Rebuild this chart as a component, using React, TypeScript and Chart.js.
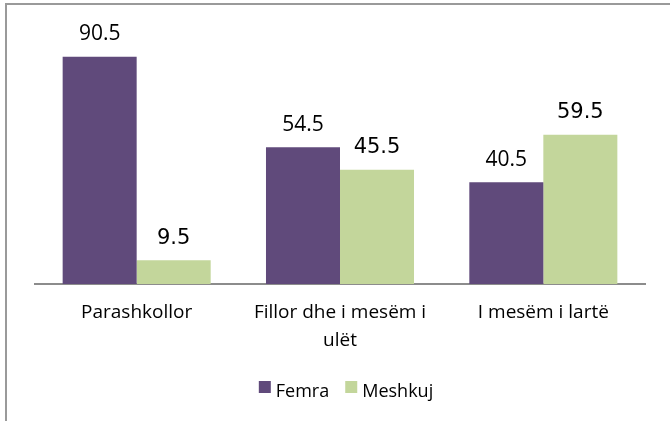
import React, { useEffect, useRef } from "react";
import { Chart, registerables } from "chart.js";

Chart.register(...registerables);

const categories: (string | string[])[] = [
  "Parashkollor",
  ["Fillor dhe i mesëm i", "ulët"],
  "I mesëm i lartë",
];
const femra = [90.5, 54.5, 40.5];
const meshkuj = [9.5, 45.5, 59.5];
const seriesNames = ["Femra", "Meshkuj"];
const colors = ["#604A7B", "#C3D69B"];
const labelFonts = ['21px "Open Sans"', '21px "DejaVu Sans"'];

const valueLabels = {
  id: "valueLabels",
  afterDatasetsDraw(chart: any) {
    const ctx = chart.ctx;
    ctx.save();
    chart.data.datasets.forEach((ds: any, di: number) => {
      const meta = chart.getDatasetMeta(di);
      ctx.font = labelFonts[di];
      ctx.fillStyle = "#000";
      ctx.textAlign = "center";
      ctx.textBaseline = "alphabetic";
      meta.data.forEach((bar: any, i: number) => {
        ctx.fillText(String(ds.data[i]), bar.x, bar.y - 16.5);
      });
    });
    ctx.restore();
  },
};

const customLegend = {
  id: "customLegend",
  afterDraw(chart: any) {
    const ctx = chart.ctx;
    ctx.save();
    ctx.font = '18px "Open Sans"';
    const box = 12;
    const gap = 5;
    const itemGap = 16;
    const widths = seriesNames.map((n) => box + gap + ctx.measureText(n).width);
    const total = widths.reduce((a, b) => a + b, 0) + itemGap * (widths.length - 1);
    const center = (chart.chartArea.left + chart.chartArea.right) / 2 + 6;
    let x = center - total / 2;
    const baseline = 397;
    seriesNames.forEach((n, i) => {
      ctx.fillStyle = colors[i];
      ctx.fillRect(x, 381, box, box);
      ctx.fillStyle = "#000";
      ctx.textAlign = "left";
      ctx.textBaseline = "alphabetic";
      ctx.fillText(n, x + box + gap, baseline);
      x += widths[i] + itemGap;
    });
    ctx.restore();
  },
};

export default function App() {
  const ref = useRef<HTMLCanvasElement | null>(null);
  useEffect(() => {
    document.body.style.margin = "0";
    if (!ref.current) return;
    const chart = new Chart(ref.current, {
      type: "bar",
      data: {
        labels: categories,
        datasets: [
          {
            label: seriesNames[0],
            data: femra,
            backgroundColor: colors[0],
            barPercentage: 1,
            categoryPercentage: 0.728,
          },
          {
            label: seriesNames[1],
            data: meshkuj,
            backgroundColor: colors[1],
            barPercentage: 1,
            categoryPercentage: 0.728,
          },
        ],
      },
      options: {
        animation: false,
        responsive: false,
        layout: { padding: { left: 35, right: 25, top: 33, bottom: 0 } },
        plugins: {
          legend: { display: false },
          tooltip: { enabled: false },
        },
        scales: {
          y: { display: false, min: 0, max: 100 },
          x: {
            grid: { display: false, drawTicks: false },
            border: { display: true, color: "#8c8c8c", width: 2 },
            ticks: {
              color: "#000",
              font: { family: "Open Sans", size: 19, lineHeight: 1.5 },
              padding: 14,
              maxRotation: 0,
              autoSkip: false,
            },
            afterFit: (scale: any) => {
              scale.height = 137;
            },
          },
        },
      },
      plugins: [valueLabels, customLegend],
    });
    return () => chart.destroy();
  }, []);
  return (
    <div style={{ position: "fixed", left: 0, top: 0, width: 670, height: 421, overflow: "hidden", background: "#fff" }}>
      <div
        style={{
          position: "absolute",
          left: 5,
          top: 3,
          width: 720,
          height: 480,
          border: "2px solid #9a9a9a",
          boxSizing: "border-box",
        }}
      />
      <canvas ref={ref} width={670} height={421} style={{ position: "absolute", left: 0, top: 0, width: 670, height: 421, display: "block" }} />
    </div>
  );
}
